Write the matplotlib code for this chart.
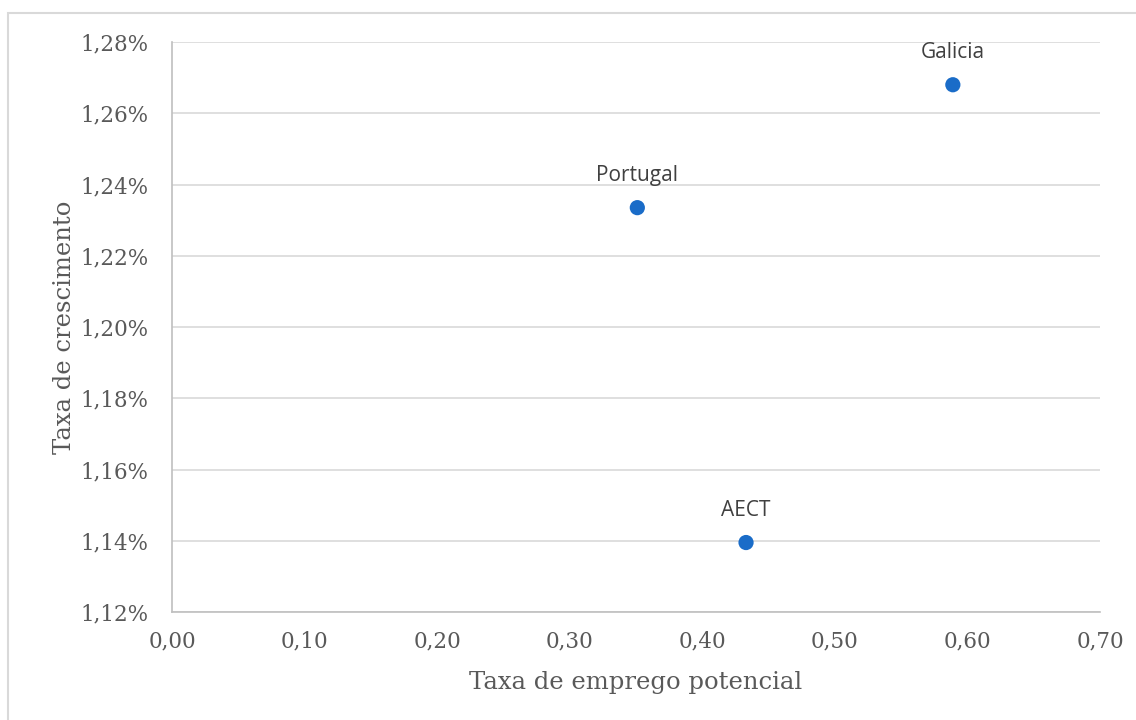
import numpy as np
import matplotlib.pyplot as plt
from matplotlib.patches import Rectangle
from matplotlib.ticker import FuncFormatter, MultipleLocator

# Data
regions = ["Galicia", "Portugal", "AECT"]
emprego = [0.589, 0.351, 0.433]          # Taxa de emprego potencial
crescimento = [1.268, 1.2335, 1.1395]    # Taxa de crescimento (%)

text_color = "#595959"
grid_color = "#d9d9d9"
dot_color = "#1a6cc8"
serif = ["DejaVu Serif"]
sans = ["Open Sans", "DejaVu Sans"]

fig = plt.figure(figsize=(11.36, 7.2), dpi=100)
ax = fig.add_axes([172 / 1136, 1 - 612 / 720, 928 / 1136, 570 / 720])

# Outer chart frame (only left and top edges visible)
fig.patches.append(Rectangle((8 / 1136, -0.1), 1.2, 1 - 13 / 720 + 0.1,
                             transform=fig.transFigure, fill=False,
                             edgecolor="#d9d9d9", linewidth=1.5, zorder=0))

ax.scatter(emprego, crescimento, s=120, color=dot_color, zorder=3,
           edgecolors="none")
for name, x, y in zip(regions, emprego, crescimento):
    ax.annotate(name, (x, y), xytext=(0, 23), textcoords="offset points",
                ha="center", va="center", fontsize=15, color="#404040",
                family=sans)

ax.set_xlim(0, 0.70)
ax.set_ylim(1.12, 1.28)
ax.xaxis.set_major_locator(MultipleLocator(0.10))
ax.yaxis.set_major_locator(MultipleLocator(0.02))
ax.xaxis.set_major_formatter(FuncFormatter(lambda v, p: f"{v:.2f}".replace(".", ",")))
ax.yaxis.set_major_formatter(FuncFormatter(lambda v, p: f"{v:.2f}%".replace(".", ",")))

ax.grid(axis="y", color=grid_color, linewidth=1.2)
ax.set_axisbelow(True)
for side in ["top", "right"]:
    ax.spines[side].set_visible(False)
for side in ["left", "bottom"]:
    ax.spines[side].set_color("#bfbfbf")
    ax.spines[side].set_linewidth(1.2)

ax.tick_params(length=0, labelsize=15.5, labelcolor=text_color)
ax.tick_params(axis="x", pad=13)
ax.tick_params(axis="y", pad=17)
for lbl in ax.get_xticklabels() + ax.get_yticklabels():
    lbl.set_family(serif)

ax.set_xlabel("Taxa de emprego potencial", fontsize=17.5, color=text_color,
              family=serif, labelpad=14)
ax.set_ylabel("Taxa de crescimento", fontsize=17.5, color=text_color,
              family=serif, labelpad=3)

fig.savefig("out.png", dpi=100, facecolor="white")
